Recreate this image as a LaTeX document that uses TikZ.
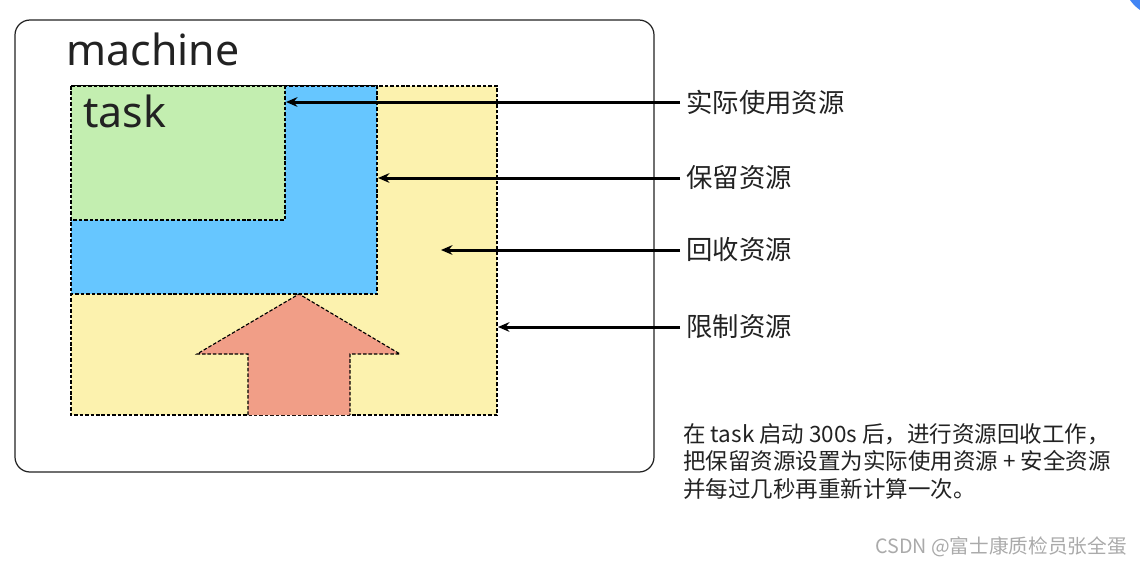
\documentclass[tikz,border=0pt]{standalone}
\usepackage{fontspec}
\setmainfont{Noto Sans}
\newfontfamily\cjk{Noto Sans CJK SC}
\usetikzlibrary{arrows.meta, positioning}
\definecolor{mydark}{RGB}{34,34,34}
\definecolor{mygreen}{RGB}{195,238,176}
\definecolor{myblue}{RGB}{102,198,255}
\definecolor{myyellow}{RGB}{252,242,174}
\definecolor{myred}{RGB}{241,158,135}
\definecolor{mygray}{RGB}{170,170,170}
\definecolor{dotblue}{RGB}{66,133,244}
\tikzset{
  region/.style={draw=black, line width=0.65pt, dash pattern=on 2pt off 1.1pt},
  pointer/.style={-{Stealth[length=6.5pt, width=5.5pt]}, line width=1.7pt, color=black},
  reslabel/.style={anchor=west, inner sep=0.12cm, font=\cjk\fontsize{15pt}{17pt}\selectfont, text=mydark},
  bigword/.style={anchor=base west, inner sep=0, font=\fontsize{24.4pt}{28pt}\selectfont, text=mydark}
}

\begin{document}
\begin{tikzpicture}[x=0.02cm, y=-0.02cm]
  \useasboundingbox (0,0) rectangle (1140,566);
  % Corner dot
  \begin{scope}
    \clip (0,0) rectangle (1140,566);
    \fill[dotblue] (1160,-20) circle (36);
  \end{scope}

  % Machine box
  \draw[mydark, line width=0.7pt, rounded corners=0.3cm] (15,20) rectangle (654,472);
  \node[bigword] (machine) at (66,65) {machine};

  % Resource regions
  \filldraw[region, fill=myyellow] (71,86) rectangle (497,415);
  \filldraw[region, fill=myblue] (71,86) rectangle (377,294);
  \filldraw[region, fill=mygreen] (71,86) rectangle (285,220);
  \node[bigword] (task) at (83,127) {task};

  % Growth arrow
  \filldraw[region, fill=myred] (248,415) -- (248,354) -- (197,354) -- (299,294)
    -- (400,354) -- (350,354) -- (350,415);

  % Arrow targets
  \coordinate (usedend) at (286,102);
  \coordinate (keptend) at (378,178);
  \coordinate (backend) at (441,250);
  \coordinate (limitend) at (498,327);

  % Labels
  \node[reslabel] (used) at (680,102) {实际使用资源};
  \node[reslabel] (kept) at (680,178) {保留资源};
  \node[reslabel] (back) at (680,250) {回收资源};
  \node[reslabel] (limit) at (680,327) {限制资源};

  \draw[pointer] (used.west) -- (usedend);
  \draw[pointer] (kept.west) -- (keptend);
  \draw[pointer] (back.west) -- (backend);
  \draw[pointer] (limit.west) -- (limitend);

  % Note
  \node[anchor=north west, inner sep=0, align=left, text=mydark,
        font=\cjk\fontsize{12.8pt}{15.6pt}\selectfont] (note) at (683,423)
    {在 task 启动 300s 后，进行资源回收工作，\\
     把保留资源设置为实际使用资源 + 安全资源\\
     并每过几秒再重新计算一次。};

  \node[anchor=base west, inner sep=0, text=mygray,
        font=\cjk\fontsize{11.2pt}{13pt}\selectfont] (mark) at (875,553)
    {CSDN @富士康质检员张全蛋};
\end{tikzpicture}
\end{document}
